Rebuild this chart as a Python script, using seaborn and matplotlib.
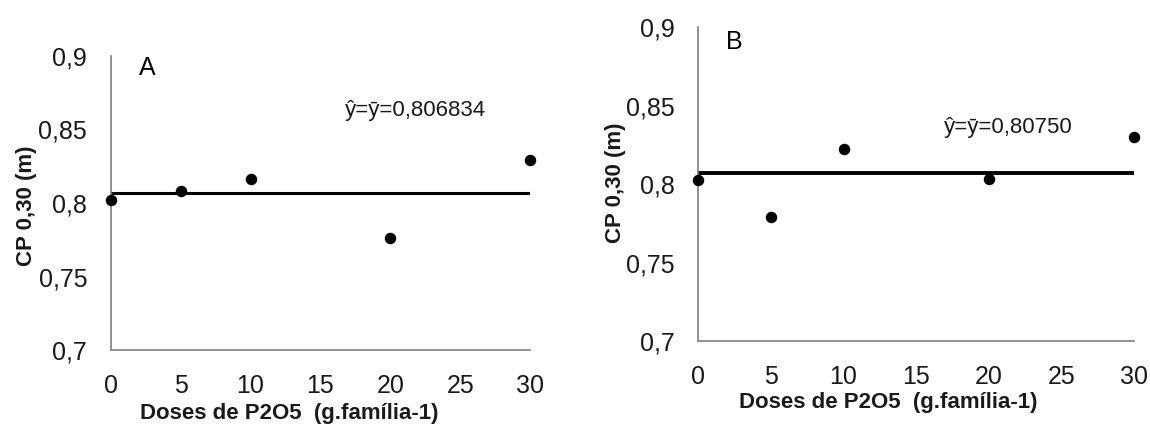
import numpy as np
import pandas as pd
import matplotlib
matplotlib.use("Agg")
import matplotlib.pyplot as plt
import seaborn as sns

doses = [0, 5, 10, 20, 30]
cp_a = [0.802, 0.8084, 0.8163, 0.776, 0.829]
cp_b = [0.8027, 0.779, 0.8225, 0.8034, 0.830]
mean_a = 0.806834
mean_b = 0.80750
eq_a = "ŷ=ȳ=0,806834"
eq_b = "ŷ=ȳ=0,80750"
yticks = [0.7, 0.75, 0.8, 0.85, 0.9]
ytick_labels = ["0,7", "0,75", "0,8", "0,85", "0,9"]
xticks = [0, 5, 10, 15, 20, 25, 30]
xlabel = "Doses de P2O5  (g.família-1)"
ylabel = "CP 0,30 (m)"

sns.set_theme(style="white")
plt.rcParams['font.family'] = ['Liberation Sans', 'DejaVu Sans']

fig = plt.figure(figsize=(11.5, 4.28), dpi=100)
ax_a = fig.add_axes([0.0963, 0.1822, 0.3646, 0.687])
ax_b = fig.add_axes([0.6072, 0.2026, 0.3789, 0.7336])

panels = [
    (ax_a, cp_a, mean_a, eq_a, "A", (16.76, 0.8626), (2.05, 0.892), 2.2, (0.425, -0.18), (-0.176, 0.49)),
    (ax_b, cp_b, mean_b, eq_b, "B", (16.9, 0.836), (1.9, 0.8906), 2.8, (0.437, -0.16), (-0.167, 0.504)),
]

for ax, vals, mean, eq, letter, eq_pos, let_pos, lw, xl_pos, yl_pos in panels:
    df = pd.DataFrame({"dose": doses, "cp": vals})
    line = pd.DataFrame({"dose": [min(doses), max(doses)], "cp": [mean, mean]})
    sns.lineplot(data=line, x="dose", y="cp", ax=ax, color="black", linewidth=lw)
    sns.scatterplot(data=df, x="dose", y="cp", ax=ax, color="black", s=68,
                    edgecolor="black", linewidth=0, clip_on=False, zorder=5)

    ax.set_xlim(0, 30)
    ax.set_ylim(0.7, 0.9)
    ax.set_xticks(xticks)
    ax.set_yticks(yticks)
    ax.set_yticklabels(ytick_labels)
    ax.tick_params(axis="both", direction="out", length=7, width=1, color="#7f7f7f",
                   labelsize=18, pad=10, labelcolor="#1a1a1a")
    ax.tick_params(axis="y", length=9, pad=8)
    for side in ["top", "right"]:
        ax.spines[side].set_visible(False)
    for side in ["left", "bottom"]:
        ax.spines[side].set_color("#7f7f7f")
        ax.spines[side].set_linewidth(1.2)

    ax.set_xlabel(xlabel, fontsize=16, fontweight="bold", color="#1a1a1a")
    ax.set_ylabel(ylabel, fontsize=16, fontweight="bold", color="#1a1a1a")
    ax.xaxis.set_label_coords(*xl_pos)
    ax.yaxis.set_label_coords(*yl_pos)

    ax.text(eq_pos[0], eq_pos[1], eq, fontsize=16, va="center", ha="left", color="#1a1a1a")
    ax.text(let_pos[0], let_pos[1], letter, fontsize=18, va="center", ha="left", color="black")

fig.savefig("out.png", dpi=100)
